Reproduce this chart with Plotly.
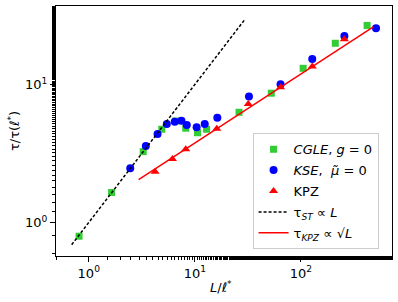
import plotly.graph_objects as go
import numpy as np

# CGLE, g=0 (green squares)
cgle_x = [0.81, 1.64, 3.26, 4.88, 6.61, 8.21, 10.6, 12.9, 26.1, 52.6, 105, 211, 421]
cgle_y = [0.795, 1.65, 3.26, 4.74, 5.44, 4.82, 4.47, 4.74, 6.29, 8.65, 13.1, 19.9, 26.8]

# KSE, mu~=0 (blue circles)
kse_x = [2.46, 3.45, 4.45, 5.44, 6.47, 7.48, 8.39, 10.4, 12.4, 16.3, 32.4, 64.3, 128, 257, 511]
kse_y = [2.47, 3.58, 4.38, 5.17, 5.38, 5.47, 5.09, 4.90, 5.17, 5.75, 8.17, 10.05, 15.3, 22.5, 25.6]

# KPZ (red triangles)
kpz_x = [4.22, 6.15, 8.21, 16.1, 31.9, 64.3, 128, 257]
kpz_y = [2.33, 2.88, 3.40, 4.78, 7.23, 9.56, 13.5, 21.3]

# reference power laws
st_x = [0.69, 30.0]
st_coef = 1.0
kpz_line_x = [2.95, 482.0]
kpz_coef = 1.19

x_tickvals = [1, 10, 100]
x_ticktext = ["10<sup>0</sup>", "10<sup>1</sup>", "10<sup>2</sup>"]
y_tickvals = [1, 10]
y_ticktext = ["10<sup>0</sup>", "10<sup>1</sup>"]

FONT = "DejaVu Sans"

fig = go.Figure()
fig.add_trace(go.Scatter(x=cgle_x, y=cgle_y, mode="markers", legendgroup="a",
                         marker=dict(symbol="square", size=7, color="#32CD32"),
                         name="<i>CGLE</i>, <i>g</i> = 0"))
fig.add_trace(go.Scatter(x=kse_x, y=kse_y, mode="markers", legendgroup="b",
                         marker=dict(symbol="circle", size=8, color="blue"),
                         name="<i>KSE</i>,  <i>μ̃</i> = 0"))
fig.add_trace(go.Scatter(x=kpz_x, y=kpz_y, mode="markers", legendgroup="c",
                         marker=dict(symbol="triangle-up", size=8, color="red"),
                         name="KPZ"))
fig.add_trace(go.Scatter(x=st_x, y=[st_coef * v for v in st_x], mode="lines", legendgroup="d",
                         line=dict(color="black", dash="3px,2px", width=1.5),
                         name="τ<sub><i>ST</i></sub> ∝ <i>L</i>"))
fig.add_trace(go.Scatter(x=kpz_line_x, y=[kpz_coef * np.sqrt(v) for v in kpz_line_x], mode="lines",
                         legendgroup="e",
                         line=dict(color="red", width=1.5),
                         name="τ<sub><i>KPZ</i></sub> ∝ √<i>L</i>"))

axis_common = dict(type="log", showgrid=False, zeroline=False, showline=True,
                   linecolor="black", linewidth=1, mirror=True, automargin=False,
                   ticks="outside", ticklen=5, tickcolor="black", tickwidth=1,
                   minor=dict(ticks="outside", ticklen=3, tickcolor="black", showgrid=False),
                   tickfont=dict(family=FONT, size=13, color="black"))

fig.update_xaxes(**axis_common, range=[-0.309, 2.859], tickvals=x_tickvals, ticktext=x_ticktext)
fig.update_yaxes(**axis_common, range=[-0.243, 1.569], tickvals=y_tickvals, ticktext=y_ticktext)

fig.add_annotation(text="<i>L</i>/<i>ℓ</i><sup>*</sup>", xref="paper", yref="paper",
                   x=0.49, y=-0.125, xanchor="center", yanchor="middle", showarrow=False,
                   font=dict(family=FONT, size=13, color="black"))
fig.add_annotation(text="τ/τ(<i>ℓ</i><sup>*</sup>)", xref="paper", yref="paper",
                   x=-0.125, y=0.5, xanchor="center", yanchor="middle", showarrow=False,
                   textangle=-90, font=dict(family=FONT, size=13, color="black"))

fig.update_layout(width=398, height=302, margin=dict(l=56, r=6, t=6, b=46, autoexpand=False),
                  plot_bgcolor="white", paper_bgcolor="white",
                  font=dict(family=FONT, size=13, color="black"),
                  showlegend=True,
                  legend=dict(x=0.96, y=0.027, xanchor="right", yanchor="bottom",
                              traceorder="grouped", tracegroupgap=1,
                              bordercolor="#cccccc", borderwidth=1, bgcolor="rgba(255,255,255,0.8)",
                              font=dict(family=FONT, size=13, color="black"),
                              itemwidth=30))

fig.write_html("out.html", config={"displayModeBar": False},
               post_script="document.body.style.margin='0';document.body.style.padding='0';")
